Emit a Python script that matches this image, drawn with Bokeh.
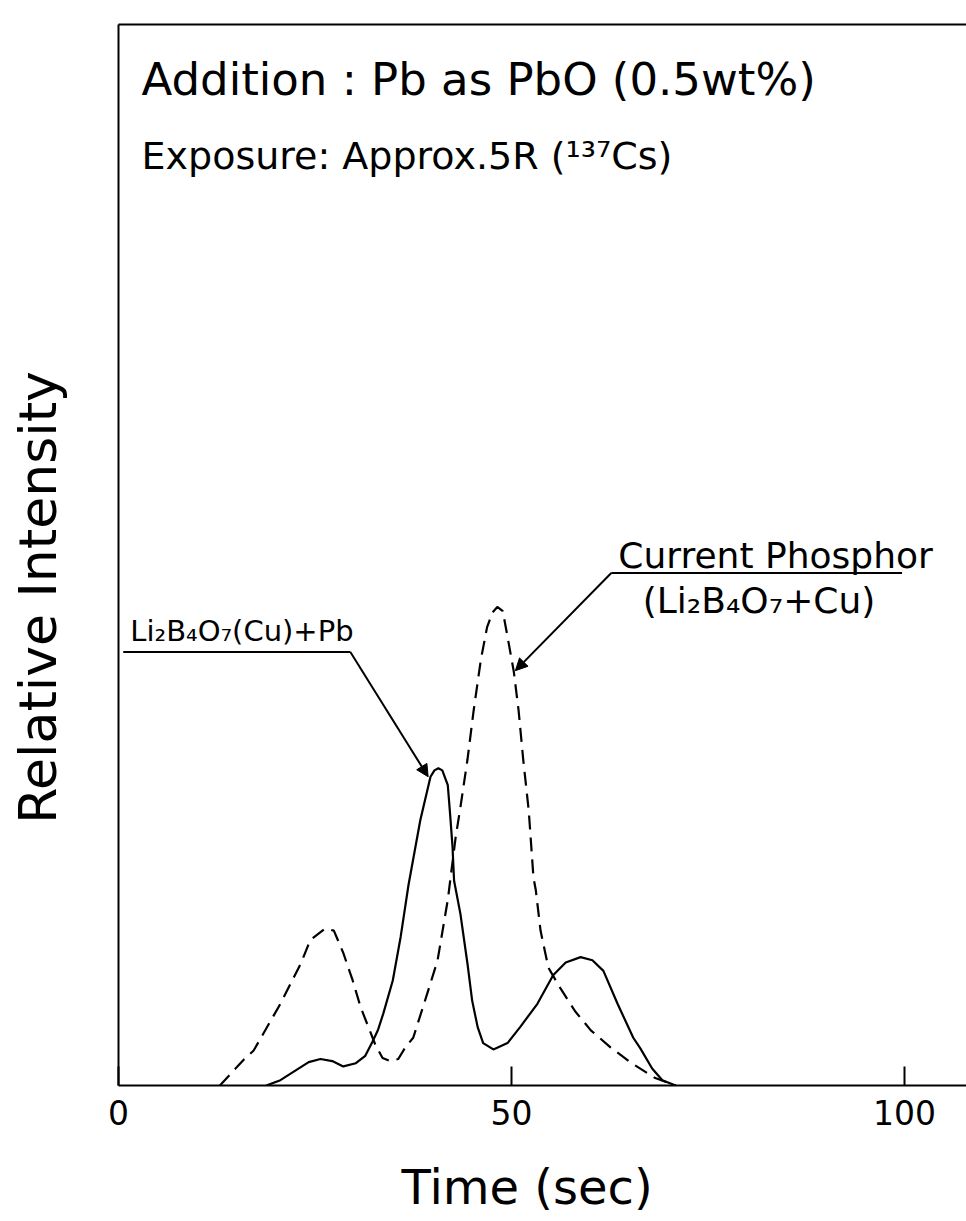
from bokeh.plotting import figure
from bokeh.models import Range1d, FixedTicker, LinearAxis, Label, Arrow, NormalHead
from bokeh.embed import file_html
from bokeh.resources import INLINE

FONT = "DejaVu Sans"

# ---- data ----
current_time = [12.9, 15.9, 17.2, 20.6, 23.2, 24.4, 26.3, 27.4, 28.6, 29.8, 30.8, 31.8, 32.7,
                33.6, 34.6, 35.6, 36.5, 37.5, 39.3, 40.6, 41.9, 42.9, 43.5, 44.4, 45.2, 46.1,
                46.9, 47.6, 48.2, 48.9, 49.5, 50.3, 50.9, 51.5, 52.2, 52.8, 53.1, 53.7, 54.7,
                56.2, 58.1, 60.1, 62.6, 65.1, 68.3, 70.9]
current_intensity = [0, 2.4, 3.3, 7.7, 11.5, 13.7, 14.8, 14.6, 12.5, 9.9, 7.4, 5.5, 3.8,
                     2.6, 2.3, 2.5, 3.6, 4.5, 8.7, 11.8, 17.5, 23.4, 26.2, 30.7, 35.4, 40.1,
                     43.2, 44.6, 45.1, 44.7, 42.3, 39.0, 35.4, 30.7, 25.9, 19.6, 18.4, 14.6, 11.1,
                     9.2, 7.0, 5.2, 3.6, 2.2, 0.7, 0]

pb_time = [18.8, 20.6, 22.5, 24.2, 25.7, 27.2, 28.6, 30.2, 31.4, 32.3, 33.0, 33.7, 34.9,
           35.9, 36.9, 38.4, 39.7, 40.2, 40.7, 41.2, 41.9, 42.2, 42.5, 42.7, 43.5, 44.4,
           45.0, 45.7, 46.4, 47.7, 49.5, 51.1, 53.3, 55.3, 56.9, 58.8, 60.3, 61.7, 63.5,
           65.5, 66.4, 67.9, 69.2, 70.9]
pb_intensity = [0, 0.5, 1.4, 2.2, 2.5, 2.3, 1.8, 2.1, 2.8, 4.1, 5.2, 6.8, 9.9,
                14.0, 18.9, 25.0, 29.1, 29.7, 29.9, 29.7, 28.3, 25.5, 22.5, 19.3, 16.2, 11.5,
                8.0, 5.5, 4.0, 3.4, 4.0, 5.5, 7.7, 10.4, 11.6, 12.1, 11.8, 10.8, 7.7,
                4.5, 3.5, 1.6, 0.5, 0]

x_ticks = [0, 50, 100]
x_tick_labels = ["0", "50", "100"]

title_lines = ["Addition : Pb as PbO (0.5wt%)", "Exposure: Approx.5R (\u00b9\u00b3\u2077Cs)"]
pb_label = "Li\u2082B\u2084O\u2087(Cu)+Pb"
current_label = ["Current Phosphor", "(Li\u2082B\u2084O\u2087+Cu)"]
x_title = "Time (sec)"
y_title = "Relative Intensity"

# ---- figure ----
p = figure(width=966, height=1221, output_backend="svg", toolbar_location=None,
           x_range=Range1d(0, 107.9), y_range=Range1d(0, 100),
           min_border_left=118, min_border_right=0, min_border_top=24, min_border_bottom=136)
p.grid.visible = False
p.outline_line_color = None
p.background_fill_color = "white"
p.border_fill_color = "white"

xa = p.xaxis[0]
xa.ticker = FixedTicker(ticks=x_ticks)
xa.major_label_overrides = {t: s for t, s in zip(x_ticks, x_tick_labels)}
xa.major_tick_in = 19
xa.major_tick_out = 0
xa.minor_tick_in = 0
xa.minor_tick_out = 0
xa.major_tick_line_width = 2
xa.major_tick_line_color = "black"
xa.axis_line_width = 2
xa.axis_line_color = "black"
xa.major_label_standoff = 14
xa.major_label_text_font = FONT
xa.major_label_text_font_size = "33px"
xa.major_label_text_color = "black"

ya = p.yaxis[0]
ya.ticker = FixedTicker(ticks=[])
ya.major_tick_in = 0
ya.major_tick_out = 0
ya.minor_tick_in = 0
ya.minor_tick_out = 0
ya.axis_line_width = 2
ya.axis_line_color = "black"
ya.major_label_text_font_size = "0px"

top = LinearAxis(ticker=FixedTicker(ticks=[]), major_tick_in=0, major_tick_out=0,
                 minor_tick_in=0, minor_tick_out=0, axis_line_width=2, axis_line_color="black",
                 major_label_text_font_size="0px")
p.add_layout(top, "above")

# axis titles, placed as single labels on outer title axes (exact placement along the axis)
X_TITLE_AT = 52
Y_TITLE_AT = 46
x_title_axis = LinearAxis(ticker=FixedTicker(ticks=[X_TITLE_AT]),
                          major_label_overrides={X_TITLE_AT: x_title},
                          major_tick_in=0, major_tick_out=0, minor_tick_in=0, minor_tick_out=0,
                          axis_line_color=None, major_label_standoff=31,
                          major_label_text_font=FONT, major_label_text_font_size="48px",
                          major_label_text_color="black")
p.add_layout(x_title_axis, "below")
y_title_axis = LinearAxis(ticker=FixedTicker(ticks=[Y_TITLE_AT]),
                          major_label_overrides={Y_TITLE_AT: y_title},
                          major_label_orientation="vertical",
                          major_tick_in=0, major_tick_out=0, minor_tick_in=0, minor_tick_out=0,
                          axis_line_color=None, major_label_standoff=50,
                          major_label_text_font=FONT, major_label_text_font_size="52px",
                          major_label_text_color="black")
p.add_layout(y_title_axis, "left")

# curves
p.line(current_time, current_intensity, line_color="black", line_width=2.2, line_dash="14 8")
p.line(pb_time, pb_intensity, line_color="black", line_width=2.2)

# texts
def add_text(x, y, text, size):
    p.add_layout(Label(x=x, y=y, text=text, text_font=FONT, text_font_size=size,
                       text_align="left", text_baseline="middle", text_color="black"))

add_text(2.93, 94.8, title_lines[0], "45px")
add_text(2.93, 87.6, title_lines[1], "38px")
add_text(1.5, 42.8, pb_label, "29px")
add_text(63.6, 50.0, current_label[0], "36px")
add_text(66.7, 45.75, current_label[1], "36px")

# underlines
p.segment(x0=[0.6, 62.7], y0=[40.85, 48.3], x1=[29.5, 99.7], y1=[40.85, 48.3],
          line_color="black", line_width=2)

# leader arrows
p.add_layout(Arrow(x_start=29.5, y_start=40.85, x_end=39.4, y_end=29.1, line_width=2,
                   end=NormalHead(size=12, fill_color="black", line_color="black")))
p.add_layout(Arrow(x_start=62.7, y_start=48.3, x_end=50.5, y_end=39.1, line_width=2,
                   end=NormalHead(size=12, fill_color="black", line_color="black")))

open("out.html", "w").write(file_html(p, INLINE))
